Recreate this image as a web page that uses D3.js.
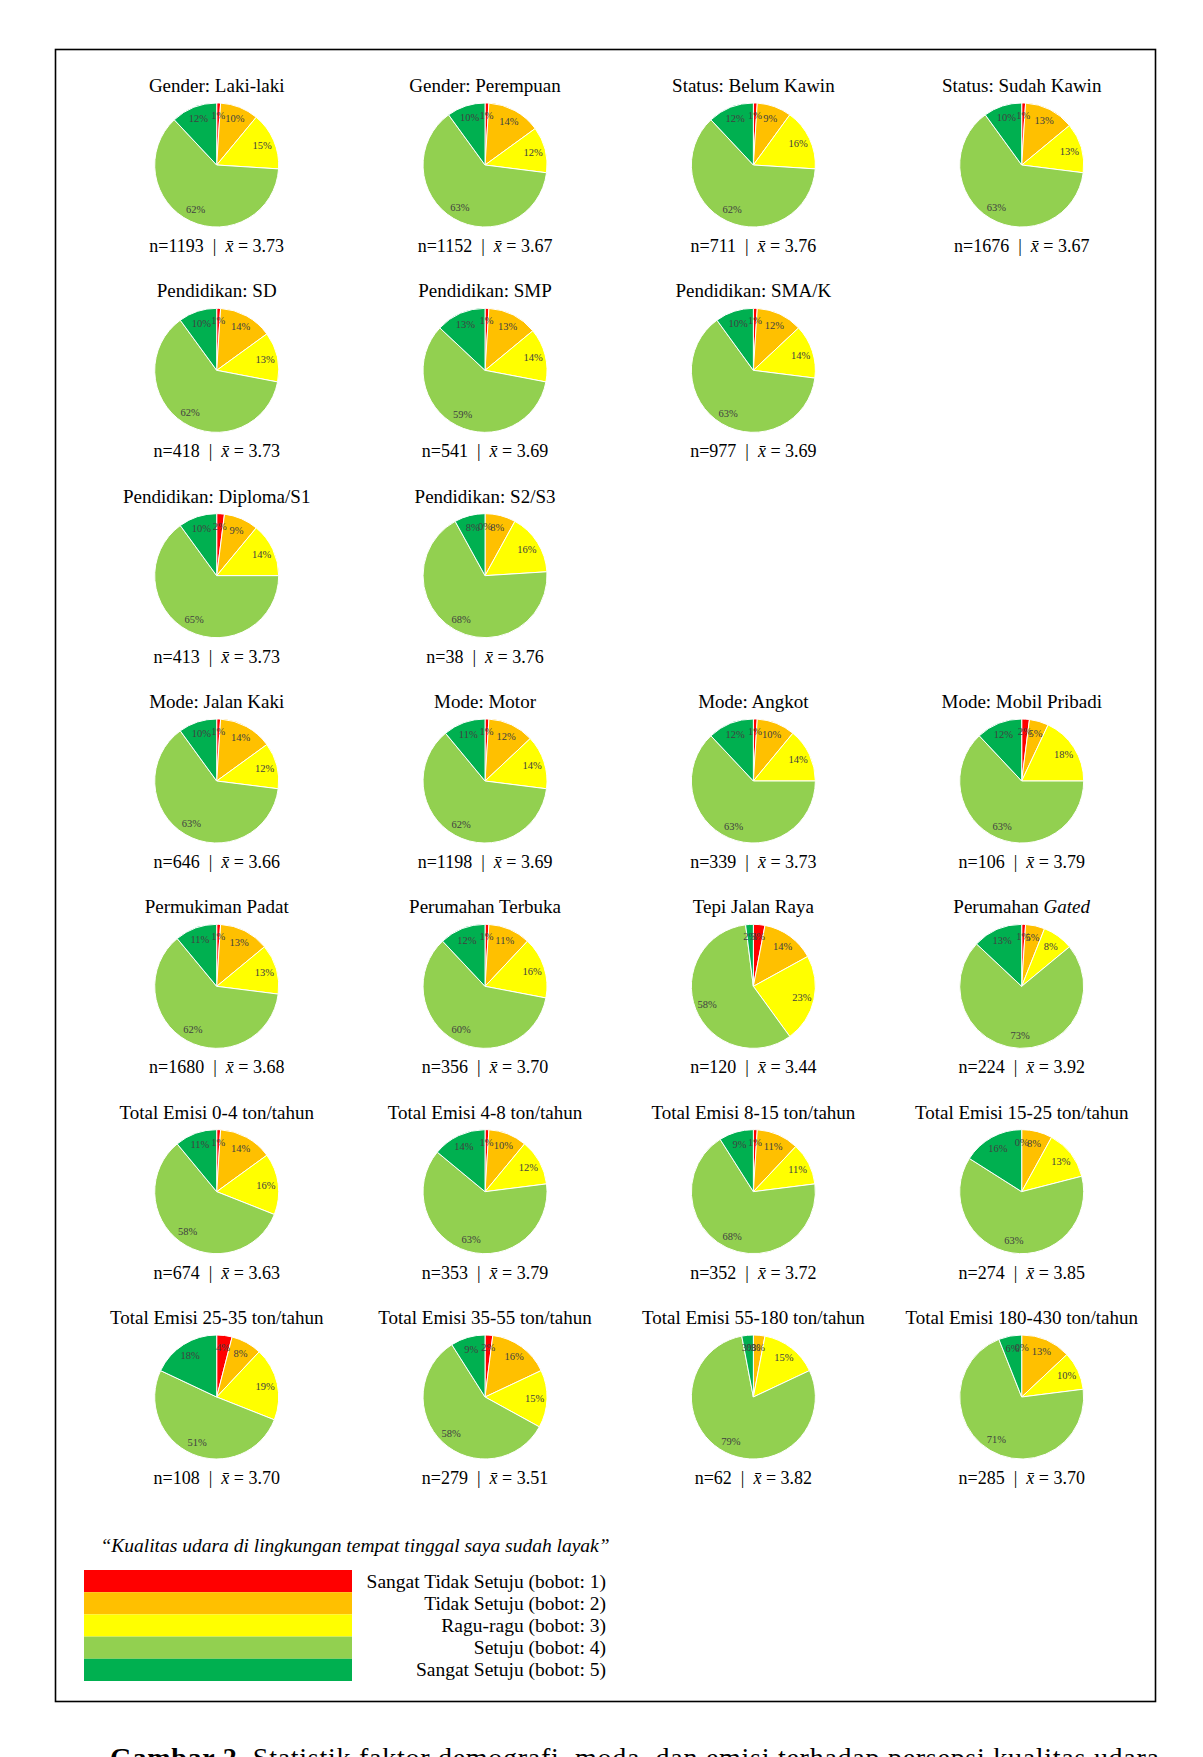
<!DOCTYPE html>
<html>
<head>
<meta charset="utf-8">
<script src="https://cdn.jsdelivr.net/npm/d3@7"></script>
<style>
  body { margin: 0; background: #fff; }
  svg { display: block; font-family: "Liberation Serif", "Times New Roman", serif; }
</style>
</head>
<body>
<div id="wrapper"></div>
<script>
// Data, one entry per pie (reading order)
const titles = [
  "Gender: Laki-laki", "Gender: Perempuan", "Status: Belum Kawin", "Status: Sudah Kawin",
  "Pendidikan: SD", "Pendidikan: SMP", "Pendidikan: SMA/K",
  "Pendidikan: Diploma/S1", "Pendidikan: S2/S3",
  "Mode: Jalan Kaki", "Mode: Motor", "Mode: Angkot", "Mode: Mobil Pribadi",
  "Permukiman Padat", "Perumahan Terbuka", "Tepi Jalan Raya", "Perumahan *Gated*",
  "Total Emisi 0-4 ton/tahun", "Total Emisi 4-8 ton/tahun", "Total Emisi 8-15 ton/tahun", "Total Emisi 15-25 ton/tahun",
  "Total Emisi 25-35 ton/tahun", "Total Emisi 35-55 ton/tahun", "Total Emisi 55-180 ton/tahun", "Total Emisi 180-430 ton/tahun"
]
const rowCounts = [4, 3, 2, 4, 4, 4, 4]

const nValues = [1193, 1152, 711, 1676, 418, 541, 977, 413, 38, 646, 1198, 339, 106,
  1680, 356, 120, 224, 674, 353, 352, 274, 108, 279, 62, 285]
const means = [3.73, 3.67, 3.76, 3.67, 3.73, 3.69, 3.69, 3.73, 3.76, 3.66, 3.69, 3.73, 3.79,
  3.68, 3.70, 3.44, 3.92, 3.63, 3.79, 3.72, 3.85, 3.70, 3.51, 3.82, 3.70]

// percentages per answer
const sangatTidakSetuju = [1, 1, 1, 1, 1, 1, 1, 2, 0, 1, 1, 1, 2, 1, 1, 3, 1, 1, 1, 1, 0, 4, 2, 0, 0]
const tidakSetuju = [10, 14, 9, 13, 14, 13, 12, 9, 8, 14, 12, 10, 5, 13, 11, 14, 5, 14, 10, 11, 8, 8, 16, 3, 13]
const raguRagu = [15, 12, 16, 13, 13, 14, 14, 14, 16, 12, 14, 14, 18, 13, 16, 23, 8, 16, 12, 11, 13, 19, 15, 15, 10]
const setuju = [62, 63, 62, 63, 62, 59, 63, 65, 68, 63, 62, 63, 63, 62, 60, 58, 73, 58, 63, 68, 63, 51, 58, 79, 71]
const sangatSetuju = [12, 10, 12, 10, 10, 13, 10, 10, 8, 10, 11, 12, 12, 11, 12, 2, 13, 11, 14, 9, 16, 18, 9, 3, 6]

const categories = [
  "Sangat Tidak Setuju (bobot: 1)", "Tidak Setuju (bobot: 2)", "Ragu-ragu (bobot: 3)",
  "Setuju (bobot: 4)", "Sangat Setuju (bobot: 5)"
]
const palette = ["#ff0000", "#ffc000", "#ffff00", "#92d050", "#00b050"]

async function drawPies() {
  const series = [sangatTidakSetuju, tidakSetuju, raguRagu, setuju, sangatSetuju]

  // 1. dimensions
  const dimensions = { width: 1203, height: 1757, radius: 62 }

  const wrapper = d3.select("#wrapper")
    .append("svg")
      .attr("width", dimensions.width)
      .attr("height", dimensions.height)

  // frame
  wrapper.append("rect")
      .attr("x", 55.5).attr("y", 49.5)
      .attr("width", 1100).attr("height", 1652)
      .attr("fill", "none")
      .attr("stroke", "#000")
      .attr("stroke-width", 1.6)

  // 2. grid scales
  const xScale = d3.scalePoint().domain(d3.range(4)).range([216.7, 1021.7])
  const yScale = d3.scalePoint().domain(d3.range(rowCounts.length)).range([165, 1397])
  const colour = d3.scaleOrdinal().domain(categories).range(palette)

  const cells = []
  let idx = 0
  rowCounts.forEach((count, row) => {
    for (let col = 0; col < count; col++) {
      cells.push({
        row, col, title: titles[idx], n: nValues[idx], mean: means[idx],
        slices: categories.map((c, k) => ({ category: c, value: series[k][idx] }))
      })
      idx++
    }
  })

  const pie = d3.pie().sort(null).value(d => d.value)
  const arc = d3.arc().innerRadius(0).outerRadius(dimensions.radius)
  const labelArc = d3.arc().innerRadius(dimensions.radius * 0.8).outerRadius(dimensions.radius * 0.8)

  // 3. draw pies
  const groups = wrapper.selectAll("g.cell")
    .data(cells)
    .join("g")
      .attr("class", "cell")
      .attr("transform", d => `translate(${xScale(d.col)},${yScale(d.row)})`)

  groups.selectAll("path")
    .data(d => pie(d.slices))
    .join("path")
      .attr("d", arc)
      .attr("fill", d => colour(d.data.category))
      .attr("stroke", "#fff")
      .attr("stroke-width", 1)

  groups.selectAll("text.pct")
    .data(d => pie(d.slices))
    .join("text")
      .attr("class", "pct")
      .attr("transform", d => `translate(${labelArc.centroid(d)})`)
      .attr("text-anchor", "middle")
      .attr("dominant-baseline", "central")
      .style("font-size", "10.5px")
      .attr("fill", "#404040")
      .text(d => d.data.value + "%")

  // titles (part between * * is italic)
  const titleText = groups.append("text")
      .attr("y", -73)
      .attr("text-anchor", "middle")
      .style("font-size", "19px")
  titleText.each(function(d) {
    const parts = d.title.split("*")
    parts.forEach((p, k) => {
      if (!p) return
      d3.select(this).append("tspan")
        .style("font-style", k % 2 ? "italic" : "normal")
        .text(p)
    })
  })

  // n and mean
  const stat = groups.append("text")
      .attr("y", 87)
      .attr("text-anchor", "middle")
      .style("font-size", "18px")
  stat.append("tspan").text(d => `n=${d.n}`)
  stat.append("tspan").attr("xml:space", "preserve").text("  |  ")
  stat.append("tspan").style("font-style", "italic").text("x\u0304")
  stat.append("tspan").attr("xml:space", "preserve").text(d => " = " + d3.format(".2f")(d.mean))

  // 4. legend
  const legend = wrapper.append("g")

  legend.append("text")
      .attr("x", 355)
      .attr("y", 1552)
      .attr("text-anchor", "middle")
      .style("font-size", "19.5px")
      .style("font-style", "italic")
      .text("\u201cKualitas udara di lingkungan tempat tinggal saya sudah layak\u201d")

  const legendY = d3.scaleBand().domain(categories).range([1570, 1681])

  legend.selectAll("rect")
    .data(categories)
    .join("rect")
      .attr("x", 84)
      .attr("y", d => legendY(d))
      .attr("width", 268)
      .attr("height", legendY.bandwidth())
      .attr("fill", d => colour(d))

  legend.selectAll("text.key")
    .data(categories)
    .join("text")
      .attr("class", "key")
      .attr("x", 606)
      .attr("y", d => legendY(d) + legendY.bandwidth() / 2 + 6.5)
      .attr("text-anchor", "end")
      .style("font-size", "19.5px")
      .text(d => d)

  // 5. caption below the frame (cut off by the page edge)
  const caption = wrapper.append("text")
      .attr("x", 110)
      .attr("y", 1767)
      .attr("textLength", 1049)
      .attr("lengthAdjust", "spacing")
      .style("font-size", "28px")
  caption.append("tspan").style("font-weight", "bold").text("Gambar 2. ")
  caption.append("tspan").text("Statistik faktor demografi, moda, dan emisi terhadap persepsi kualitas udara")
}
drawPies()
</script>
</body>
</html>
